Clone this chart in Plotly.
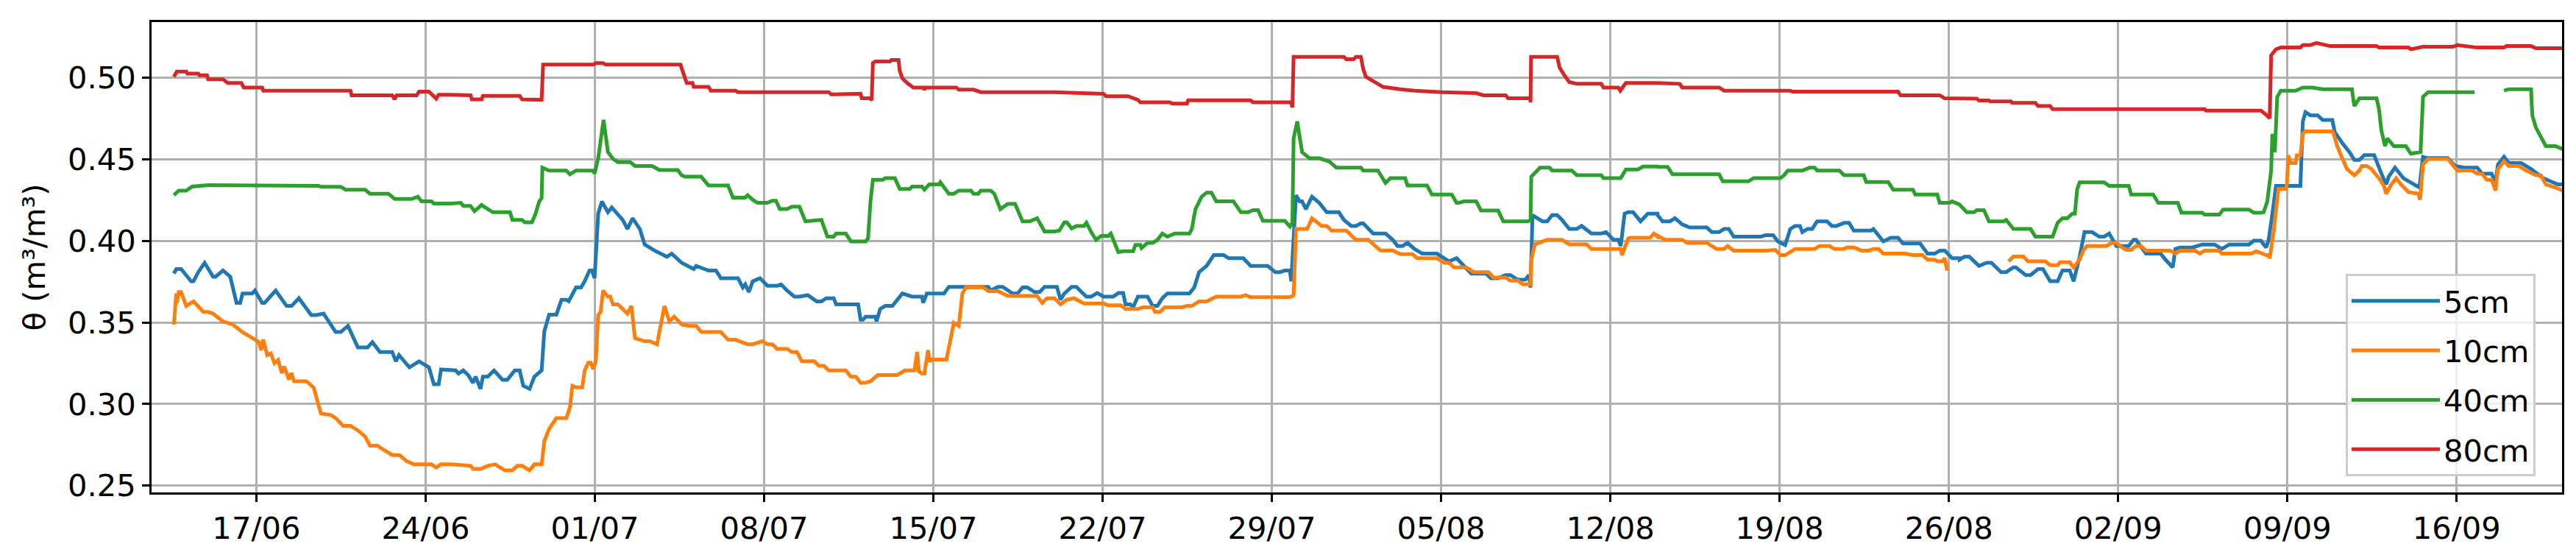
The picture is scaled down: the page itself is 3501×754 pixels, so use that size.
import pandas as pd
import plotly.graph_objects as go

BASE = pd.Timestamp("2019-06-17")

# ---- 5 cm ----
days_5cm = [
    -3.41, -3.31, -3.11, -2.90, -2.70, -2.60, -2.40, -2.14, -1.79, -1.69, -1.38, -1.08, -0.93, -0.82, -0.67, -0.57, -0.17, -0.06, 0.24, 0.34, 0.80, 1.25,
    1.46, 1.76, 2.27, 2.47, 2.78, 3.28, 3.49, 3.79, 4.20, 4.60, 4.80, 5.11, 5.62, 5.77, 5.90, 6.33, 6.73, 7.14, 7.34, 7.54, 7.64, 8.05,
    8.25, 8.36, 8.56, 8.76, 8.96, 9.07, 9.27, 9.37, 9.57, 9.83, 10.18, 10.38, 10.69, 10.89, 11.04, 11.30, 11.50, 11.80, 11.91, 12.11, 12.41, 12.62, 12.82, 12.92, 13.22, 13.43,
    13.58, 13.78, 13.88, 13.99, 14.14, 14.29, 14.54, 14.70, 15.15, 15.35, 15.56, 15.86, 16.06, 16.47, 16.98, 17.18, 17.59, 18.09, 18.19, 18.70, 19.01, 19.21, 19.92, 20.12, 20.22, 20.37, 20.53,
    20.83, 21.14, 21.54, 21.70, 21.95, 22.25, 22.46, 22.81, 23.17, 23.37, 23.57, 23.88, 23.98, 24.89, 24.99, 25.09, 25.20, 25.60, 25.65, 25.80,
    26.01, 26.31, 26.72, 27.12, 27.53, 27.58, 27.73, 28.44, 28.64, 30.27, 30.37, 30.67, 30.87, 31.28, 31.48, 31.69, 31.89, 32.19, 32.40, 32.60, 33.01,
    33.11, 33.26, 33.42, 33.72, 33.92, 34.13, 34.33, 34.53, 34.78, 35.04, 35.44, 35.65, 35.85, 35.95, 36.15, 36.26, 36.46, 36.86, 37.07, 37.27, 37.47, 37.68, 38.59, 38.79,
    38.99, 39.30, 39.60, 40.01, 40.21, 40.82, 41.12, 41.83, 42.14, 42.34, 42.54, 42.75, 42.80, 43.00, 43.15, 43.25, 43.41, 43.66, 43.96, 44.27, 44.77, 44.98, 45.28, 45.48,
    45.68, 45.78, 45.99, 46.19, 46.70, 47.00, 47.20, 47.41, 47.61, 47.91, 48.22, 48.83, 49.03, 49.33, 49.64, 49.94, 50.25, 50.86, 51.06, 51.36, 51.67, 51.87,
    52.17, 52.48, 52.63, 52.70, 52.78, 53.19, 53.39, 53.59, 53.80, 54.00, 54.30, 54.61, 54.81, 55.22, 55.62, 55.82, 56.13, 56.33, 56.43, 56.59, 56.74, 56.94, 57.25, 57.55, 57.95,
    57.96, 58.16, 58.47, 58.67, 58.97, 59.28, 59.99, 60.19, 60.50, 60.70, 60.90, 61.10, 62.22, 62.42, 62.73, 62.93, 63.23, 63.44, 63.64, 63.84, 63.94,
    64.15, 64.35, 64.55, 64.96, 65.16, 65.36, 65.67, 65.87, 66.07, 66.78, 66.88, 67.29, 67.60, 67.90, 68.10, 68.81, 69.12, 69.42, 69.62, 69.83, 70.13, 70.43,
    70.44, 70.64, 70.85, 71.25, 71.56, 71.76, 72.16, 72.37, 72.67, 72.77, 73.18, 73.38, 73.69, 73.89, 74.19, 74.50, 74.70, 75.00, 75.16, 75.41, 75.61,
    75.92, 76.22, 76.42, 76.63, 76.93, 77.44, 77.64, 77.74, 78.15, 78.76, 78.96, 79.26, 79.37, 79.57, 80.07, 80.48, 80.99, 81.29, 81.60, 82.41, 82.61, 82.91,
    83.12, 83.22, 83.38, 83.53, 84.54, 84.64, 84.75, 84.95, 85.25, 85.46, 85.86, 85.96, 86.27, 86.57, 86.77, 86.98, 87.18, 87.59, 87.89, 88.09, 88.19,
    88.45, 88.80, 89.21, 89.46, 89.61, 89.82, 90.63, 90.93, 91.34, 91.85, 92.05, 92.45, 92.61, 92.71, 92.96, 93.16, 93.67, 94.08, 94.58, 95.19, 95.39,
]
theta_5cm = [
    0.3800, 0.3827, 0.3827, 0.3789, 0.3752, 0.3752, 0.3808, 0.3865, 0.3780, 0.3780, 0.3818, 0.3780, 0.3677, 0.3620, 0.3620, 0.3677, 0.3677, 0.3695, 0.3620, 0.3620, 0.3695, 0.3601,
    0.3601, 0.3648, 0.3545, 0.3545, 0.3554, 0.3441, 0.3441, 0.3479, 0.3347, 0.3347, 0.3379, 0.3319, 0.3319, 0.3262, 0.3300, 0.3225, 0.3262, 0.3225, 0.3121, 0.3121, 0.3212, 0.3206,
    0.3206, 0.3187, 0.3206, 0.3178, 0.3130, 0.3168, 0.3093, 0.3168, 0.3168, 0.3206, 0.3149, 0.3149, 0.3206, 0.3206, 0.3112, 0.3093, 0.3168, 0.3206, 0.3446, 0.3548, 0.3548, 0.3639, 0.3639, 0.3630, 0.3714, 0.3714,
    0.3752, 0.3818, 0.3818, 0.3771, 0.4166, 0.4241, 0.4175, 0.4204, 0.4128, 0.4072, 0.4138, 0.4072, 0.3977, 0.3940, 0.3902, 0.3921, 0.3865, 0.3827, 0.3846, 0.3818, 0.3818, 0.3771, 0.3771, 0.3714, 0.3733, 0.3686, 0.3752,
    0.3771, 0.3724, 0.3724, 0.3733, 0.3695, 0.3658, 0.3658, 0.3667, 0.3629, 0.3629, 0.3648, 0.3648, 0.3611, 0.3611, 0.3517, 0.3517, 0.3535, 0.3535, 0.3507, 0.3582,
    0.3601, 0.3601, 0.3677, 0.3658, 0.3658, 0.3620, 0.3677, 0.3677, 0.3718, 0.3718, 0.3695, 0.3718, 0.3718, 0.3677, 0.3677, 0.3714, 0.3714, 0.3686, 0.3686, 0.3718, 0.3718,
    0.3718, 0.3639, 0.3677, 0.3718, 0.3718, 0.3686, 0.3658, 0.3658, 0.3680, 0.3658, 0.3658, 0.3680, 0.3680, 0.3611, 0.3611, 0.3592, 0.3658, 0.3658, 0.3601, 0.3601, 0.3648, 0.3677, 0.3677, 0.3714,
    0.3808, 0.3846, 0.3912, 0.3912, 0.3893, 0.3893, 0.3846, 0.3846, 0.3808, 0.3808, 0.3818, 0.3818, 0.3752, 0.4279, 0.4241, 0.4241, 0.4194, 0.4270, 0.4232, 0.4175, 0.4175, 0.4128, 0.4091, 0.4091,
    0.4106, 0.4106, 0.4072, 0.4044, 0.4044, 0.4006, 0.3968, 0.3968, 0.3987, 0.3949, 0.3921, 0.3921, 0.3902, 0.3874, 0.3893, 0.3846, 0.3799, 0.3799, 0.3771, 0.3771, 0.3790, 0.3790,
    0.3761, 0.3761, 0.3790, 0.3714, 0.4157, 0.4119, 0.4119, 0.4157, 0.4157, 0.4128, 0.4072, 0.4072, 0.4091, 0.4044, 0.4044, 0.4053, 0.4006, 0.4006, 0.3968, 0.4166, 0.4175, 0.4175, 0.4119, 0.4166, 0.4166,
    0.4156, 0.4119, 0.4119, 0.4138, 0.4100, 0.4081, 0.4081, 0.4053, 0.4053, 0.4072, 0.4072, 0.4025, 0.4025, 0.4034, 0.4034, 0.3996, 0.3974, 0.4072, 0.4091, 0.4091, 0.4053,
    0.4072, 0.4072, 0.4119, 0.4119, 0.4091, 0.4091, 0.4110, 0.4110, 0.4062, 0.4062, 0.4072, 0.3996, 0.4019, 0.4019, 0.3983, 0.3983, 0.3921, 0.3921, 0.3940, 0.3940, 0.3893, 0.3893,
    0.3884, 0.3902, 0.3902, 0.3846, 0.3865, 0.3865, 0.3808, 0.3808, 0.3837, 0.3837, 0.3790, 0.3790, 0.3827, 0.3827, 0.3752, 0.3752, 0.3818, 0.3818, 0.3752, 0.3902, 0.4053,
    0.4053, 0.4025, 0.4025, 0.4044, 0.3968, 0.3968, 0.4006, 0.4006, 0.3921, 0.3921, 0.3884, 0.3837, 0.3950, 0.3959, 0.3959, 0.3977, 0.3977, 0.3950, 0.3977, 0.3977, 0.4000, 0.4000,
    0.3959, 0.4000, 0.4166, 0.4336, 0.4336, 0.4731, 0.4787, 0.4768, 0.4768, 0.4740, 0.4740, 0.4665, 0.4599, 0.4543, 0.4495, 0.4495, 0.4524, 0.4524, 0.4411, 0.4345, 0.4392,
    0.4448, 0.4383, 0.4345, 0.4326, 0.4514, 0.4506, 0.4506, 0.4458, 0.4448, 0.4448, 0.4411, 0.4411, 0.4354, 0.4467, 0.4514, 0.4476, 0.4476, 0.4439, 0.4383, 0.4345, 0.4345,
]

# ---- 10 cm ----
days_10cm = [
    -3.41, -3.35, -3.31, -3.28, -3.21, -3.11, -2.90, -2.60, -2.40, -2.19, -1.99, -1.79, -1.38, -0.98, -0.57, -0.17, 0.10, 0.20, 0.28, 0.45, 0.60, 0.75, 0.90, 1.05, 1.15, 1.35, 1.45, 1.56,
    2.07, 2.37, 2.67, 3.08, 3.28, 3.59, 3.89, 4.20, 4.50, 4.70, 5.01, 5.31, 5.62, 5.92, 6.22, 6.53, 7.24, 7.44, 7.64, 8.05,
    8.86, 8.96, 9.27, 9.57, 9.88, 10.28, 10.59, 10.79, 10.99, 11.30, 11.50, 11.80, 11.91, 12.11, 12.41, 12.82, 12.97, 13.07, 13.22, 13.48, 13.58, 13.73, 13.83, 13.93, 14.04,
    14.14, 14.24, 14.34, 14.54, 14.64, 14.75, 14.95, 15.15, 15.35, 15.51, 15.66, 16.06, 16.27, 16.57, 16.88, 17.08, 17.28, 17.59, 17.89, 18.19, 18.40, 19.21, 19.51, 19.82, 20.32, 20.53,
    20.94, 21.14, 21.34, 21.54, 21.95, 22.15, 22.36, 22.56, 23.07, 23.27, 23.47, 23.67, 24.38, 24.59, 24.79, 24.99, 25.20, 25.40, 25.70, 26.51, 26.82, 27.22,
    27.33, 27.40, 27.53, 27.63, 27.78, 27.85, 27.93, 28.54, 28.75, 28.85, 29.05, 29.20, 29.35, 30.06, 30.27, 30.67, 31.08, 32.29, 32.50, 32.70, 33.01,
    33.26, 33.52, 33.82, 34.23, 35.04, 35.24, 35.75, 35.95, 36.46, 36.66, 37.07, 37.17, 37.37, 37.57, 38.28, 38.49, 38.69, 38.99, 39.30, 39.70, 40.72,
    40.92, 41.12, 42.75, 42.90, 43.00, 43.46, 43.66, 44.06, 44.27, 44.47, 45.08, 45.48,
    45.99, 46.19, 46.49, 47.00, 47.31, 47.81, 48.02, 48.83, 49.13, 49.33, 49.54, 50.04, 50.35, 50.96, 51.16, 51.67, 51.87, 52.17, 52.38, 52.70,
    52.73, 52.88, 53.39, 54.00, 54.30, 55.01, 55.22, 56.43, 56.48, 56.74, 56.84, 57.65, 57.80, 57.95,
    57.96, 58.26, 58.97, 59.18, 59.99, 60.39, 60.70, 60.85, 61.10, 62.42, 62.63, 62.83, 63.03, 63.23, 63.44, 63.64, 64.45, 64.65, 65.06, 65.26,
    65.67, 65.77, 66.07, 66.38, 66.68, 66.88, 67.09, 67.29, 68.20, 68.51, 68.91, 69.12, 69.42, 69.52, 69.72, 69.83, 69.93, 71.20,
    72.47, 72.67, 73.08, 73.28, 73.99, 74.19, 74.50, 74.60, 75.00, 75.16, 75.41, 75.56, 75.71, 76.52, 76.73, 76.93, 77.13, 77.34, 77.54, 77.74,
    77.95, 78.15, 79.16, 79.37, 79.57, 80.18, 80.38, 80.58, 81.19, 81.29, 82.51, 82.71, 82.91,
    83.12, 83.22, 83.27, 83.43, 83.53, 83.63, 83.93, 83.98, 84.04, 84.14, 84.34, 84.39, 84.54, 84.64, 84.75, 85.86, 85.91, 86.06, 86.27, 86.47, 86.77, 86.98,
    87.08, 87.28, 87.48, 87.79, 87.99, 88.09, 88.30, 88.50, 88.70, 89.01, 89.41, 89.49, 89.61, 89.82, 90.63, 90.83, 91.03, 91.64, 91.85, 92.05,
    92.25, 92.45, 92.61, 92.71, 92.96, 93.16, 93.57, 93.87, 94.28, 94.48, 94.69, 95.09, 95.39,
]
theta_10cm = [
    0.3487, 0.3570, 0.3677, 0.3620, 0.3686, 0.3686, 0.3601, 0.3629, 0.3601, 0.3564, 0.3564, 0.3554, 0.3506, 0.3488, 0.3441, 0.3404, 0.3380, 0.3330, 0.3395, 0.3300, 0.3310, 0.3250, 0.3270, 0.3190, 0.3230, 0.3150, 0.3190, 0.3140,
    0.3140, 0.3102, 0.2942, 0.2933, 0.2914, 0.2867, 0.2867, 0.2839, 0.2801, 0.2745, 0.2745, 0.2716, 0.2688, 0.2688, 0.2650, 0.2631, 0.2631, 0.2612, 0.2631, 0.2631,
    0.2622, 0.2603, 0.2603, 0.2622, 0.2631, 0.2594, 0.2594, 0.2622, 0.2622, 0.2594, 0.2631, 0.2631, 0.2773, 0.2848, 0.2914, 0.2914, 0.2980, 0.3112, 0.3102, 0.3102, 0.3206, 0.3253, 0.3253, 0.3215, 0.3262,
    0.3545, 0.3564, 0.3695, 0.3658, 0.3658, 0.3611, 0.3611, 0.3582, 0.3554, 0.3601, 0.3404, 0.3385, 0.3385, 0.3366, 0.3601, 0.3506, 0.3535, 0.3488, 0.3479, 0.3479, 0.3441, 0.3441, 0.3394, 0.3394, 0.3366, 0.3366,
    0.3385, 0.3366, 0.3366, 0.3338, 0.3338, 0.3319, 0.3319, 0.3262, 0.3262, 0.3234, 0.3234, 0.3206, 0.3206, 0.3168, 0.3168, 0.3131, 0.3131, 0.3140, 0.3178, 0.3178, 0.3206, 0.3206,
    0.3319, 0.3200, 0.3187, 0.3187, 0.3330, 0.3260, 0.3272, 0.3272, 0.3432, 0.3498, 0.3479, 0.3677, 0.3714, 0.3714, 0.3692, 0.3692, 0.3662, 0.3662, 0.3620, 0.3648, 0.3648,
    0.3611, 0.3639, 0.3648, 0.3616, 0.3616, 0.3605, 0.3605, 0.3582, 0.3582, 0.3592, 0.3592, 0.3564, 0.3564, 0.3592, 0.3592, 0.3601, 0.3601, 0.3629, 0.3629, 0.3658, 0.3658,
    0.3667, 0.3654, 0.3654, 0.3667, 0.4072, 0.4072, 0.4138, 0.4091, 0.4091, 0.4062, 0.4062, 0.4006,
    0.4006, 0.3978, 0.3941, 0.3941, 0.3918, 0.3918, 0.3893, 0.3893, 0.3865, 0.3865, 0.3837, 0.3837, 0.3808, 0.3808, 0.3775, 0.3775, 0.3756, 0.3756, 0.3733, 0.3733,
    0.3884, 0.3978, 0.4006, 0.4006, 0.3978, 0.3978, 0.3950, 0.3950, 0.3912, 0.4015, 0.4019, 0.4019, 0.4044, 0.4025,
    0.4031, 0.4006, 0.4006, 0.3987, 0.3987, 0.3950, 0.3950, 0.3968, 0.3940, 0.3940, 0.3944, 0.3944, 0.3912, 0.3912, 0.3931, 0.3950, 0.3950, 0.3968, 0.3968, 0.3950,
    0.3950, 0.3959, 0.3959, 0.3940, 0.3940, 0.3950, 0.3950, 0.3921, 0.3921, 0.3912, 0.3912, 0.3884, 0.3884, 0.3874, 0.3874, 0.3893, 0.3818, None,
    0.3874, 0.3903, 0.3903, 0.3874, 0.3874, 0.3850, 0.3850, 0.3869, 0.3869, 0.3837, 0.3884, 0.3940, 0.3968, 0.3968, 0.3987, 0.3987, 0.3963, 0.3944, 0.3944, 0.3968,
    0.3968, 0.3940, 0.3940, 0.3921, 0.3940, 0.3940, 0.3921, 0.3940, 0.3940, 0.3921, 0.3921, 0.3936, 0.3925,
    0.3912, 0.3912, 0.3893, 0.4053, 0.4204, 0.4317, 0.4317, 0.4345, 0.4523, 0.4476, 0.4476, 0.4523, 0.4523, 0.4655, 0.4670, 0.4670, 0.4655, 0.4580, 0.4505, 0.4439, 0.4401, 0.4430,
    0.4458, 0.4458, 0.4439, 0.4383, 0.4336, 0.4288, 0.4345, 0.4383, 0.4345, 0.4298, 0.4288, 0.4251, 0.4467, 0.4501, 0.4501, 0.4467, 0.4430, 0.4430, 0.4411, 0.4411,
    0.4373, 0.4373, 0.4307, 0.4439, 0.4486, 0.4458, 0.4458, 0.4430, 0.4401, 0.4401, 0.4345, 0.4326, 0.4307,
]

# ---- 40 cm ----
days_40cm = [
    -3.41, -3.21, -2.90, -2.65, -1.99, 0.65, 2.57, 2.67, 3.49, 3.69, 4.50, 4.70, 5.46, 5.72, 6.43, 6.68, 6.83, 7.24, 7.34, 8.05,
    8.46, 8.56, 8.86, 9.02, 9.32, 9.47, 9.78, 10.49, 10.59, 10.99, 11.10, 11.40, 11.55, 11.70, 11.80, 11.83, 12.11, 12.82, 12.97, 13.22, 13.93, 13.99,
    14.14, 14.36, 14.54, 14.75, 14.95, 15.46, 15.66, 16.37, 16.67, 17.43, 17.59, 17.74, 18.40, 18.70, 19.51, 19.71, 20.22, 20.32, 20.53,
    20.73, 21.14, 21.34, 21.49, 21.65, 21.95, 22.15, 22.46, 22.71, 23.37, 23.62, 23.88, 23.98, 24.38, 24.59, 25.20, 25.30, 25.40, 25.50, 25.91, 26.01, 26.41,
    26.61, 27.02, 27.12, 27.53, 27.63, 27.83, 28.24, 28.29, 28.64, 28.85, 29.05, 29.56, 29.66, 29.86, 29.96, 30.37, 30.52, 30.77, 31.08, 31.38, 31.69, 31.99, 32.29, 32.60, 33.01,
    33.21, 33.42, 33.52, 33.72, 33.92, 34.23, 34.33, 34.53, 34.73, 34.94, 35.24, 35.34, 35.65, 35.85, 36.26, 36.36, 36.56, 36.61, 36.86, 37.07, 37.27, 37.47, 37.68, 37.98,
    38.59, 38.69, 38.84, 39.10, 39.30, 39.50, 39.70, 40.41, 40.72, 41.02, 41.22, 41.43, 41.63, 42.54, 42.75, 42.85, 42.90, 43.05, 43.25, 43.56, 43.96, 44.37, 44.67, 45.48,
    45.68, 45.78, 46.39, 46.70, 46.90, 47.51, 47.61, 48.42, 48.62, 49.44, 49.64, 49.74, 49.94, 50.45, 50.65, 51.36, 51.57, 52.58, 52.70, 52.73, 52.99, 53.09,
    53.49, 53.59, 54.41, 54.61, 55.62, 55.72, 56.43, 56.64, 57.14, 57.35, 57.95,
    57.96, 58.37, 58.57, 60.50, 60.65, 61.71, 61.92, 63.03, 63.18, 63.34, 63.94, 64.25, 64.45, 64.55, 65.47, 65.67, 66.48, 66.58, 67.49, 67.70,
    68.51, 68.61, 69.52, 69.62, 70.03, 70.13, 70.43,
    70.74, 71.05, 71.15, 71.45, 71.66, 72.27, 72.37, 72.67, 73.38, 73.58, 74.29, 74.50, 74.70, 74.90, 75.11, 75.21, 75.31, 75.41, 76.42, 76.63,
    77.44, 77.54, 78.45, 78.66, 79.47, 79.62, 80.48, 80.58, 81.19, 81.34, 82.41, 82.61, 82.91,
    83.02, 83.17, 83.33, 83.38, 83.48, 83.51, 83.58, 83.73, 84.34, 84.64, 85.05, 85.46, 86.67, 86.77, 86.98, 87.69, 87.79, 87.89, 88.04, 88.14,
    88.40, 88.90, 89.11, 89.51, 89.61, 89.82, 91.74, 92.35, 92.96, 93.16, 94.08, 94.13, 94.28, 94.48, 94.69, 95.09, 95.39,
]
theta_40cm = [
    0.4279, 0.4307, 0.4307, 0.4332, 0.4341, 0.4341, 0.4336, 0.4330, 0.4330, 0.4313, 0.4313, 0.4288, 0.4288, 0.4256, 0.4256, 0.4270, 0.4241, 0.4241, 0.4228, 0.4228,
    0.4232, 0.4213, 0.4213, 0.4181, 0.4219, 0.4204, 0.4175, 0.4175, 0.4128, 0.4128, 0.4113, 0.4113, 0.4166, 0.4241, 0.4260, 0.4448, 0.4430, 0.4430, 0.4407, 0.4430, 0.4430, 0.4411,
    0.4506, 0.4740, 0.4543, 0.4502, 0.4482, 0.4482, 0.4458, 0.4458, 0.4433, 0.4433, 0.4401, 0.4392, 0.4392, 0.4339, 0.4339, 0.4264, 0.4264, 0.4279, 0.4251,
    0.4232, 0.4232, 0.4245, 0.4245, 0.4194, 0.4194, 0.4209, 0.4209, 0.4119, 0.4128, 0.4025, 0.4025, 0.4044, 0.4044, 0.3996, 0.3996, 0.4015, 0.4241, 0.4373, 0.4373, 0.4383, 0.4383,
    0.4317, 0.4317, 0.4332, 0.4332, 0.4313, 0.4345, 0.4345, 0.4358, 0.4288, 0.4288, 0.4307, 0.4307, 0.4288, 0.4288, 0.4307, 0.4307, 0.4288, 0.4194, 0.4226, 0.4226, 0.4119, 0.4119, 0.4138, 0.4057, 0.4057,
    0.4062, 0.4113, 0.4113, 0.4076, 0.4091, 0.4091, 0.4110, 0.4053, 0.4006, 0.4030, 0.4030, 0.4044, 0.3931, 0.3936, 0.3936, 0.3974, 0.3974, 0.3955, 0.3987, 0.3987, 0.4006, 0.4044, 0.4025, 0.4044,
    0.4044, 0.4072, 0.4194, 0.4270, 0.4294, 0.4294, 0.4241, 0.4241, 0.4175, 0.4175, 0.4188, 0.4188, 0.4122, 0.4122, 0.4087, 0.4110, 0.4627, 0.4731, 0.4543, 0.4505, 0.4505, 0.4486, 0.4448, 0.4448,
    0.4448, 0.4430, 0.4430, 0.4354, 0.4383, 0.4383, 0.4339, 0.4339, 0.4283, 0.4283, 0.4232, 0.4232, 0.4241, 0.4241, 0.4185, 0.4185, 0.4119, 0.4119, 0.4128, 0.4392, 0.4437, 0.4448,
    0.4448, 0.4430, 0.4430, 0.4401, 0.4401, 0.4383, 0.4383, 0.4437, 0.4437, 0.4454, 0.4454,
    0.4452, 0.4452, 0.4407, 0.4407, 0.4364, 0.4364, 0.4383, 0.4383, 0.4401, 0.4430, 0.4430, 0.4448, 0.4448, 0.4430, 0.4430, 0.4401, 0.4401, 0.4360, 0.4360, 0.4313,
    0.4313, 0.4283, 0.4283, 0.4232, 0.4232, 0.4241, 0.4223,
    0.4175, 0.4175, 0.4188, 0.4188, 0.4119, 0.4119, 0.4128, 0.4072, 0.4072, 0.4025, 0.4025, 0.4110, 0.4138, 0.4138, 0.4166, 0.4166, 0.4317, 0.4358, 0.4358, 0.4336,
    0.4336, 0.4283, 0.4283, 0.4232, 0.4232, 0.4172, 0.4172, 0.4160, 0.4160, 0.4191, 0.4191, 0.4172, 0.4172,
    0.4175, 0.4241, 0.4430, 0.4655, 0.4543, 0.4637, 0.4881, 0.4919, 0.4919, 0.4938, 0.4938, 0.4928, 0.4928, 0.4825, 0.4872, 0.4872, 0.4806, 0.4674, 0.4580, 0.4627,
    0.4580, 0.4580, 0.4533, 0.4543, 0.4881, 0.4910, 0.4910, None, 0.4919, 0.4928, 0.4928, 0.4768, 0.4693, 0.4637, 0.4580, 0.4580, 0.4561,
]

# ---- 80 cm ----
days_80cm = [
    -3.41, -3.29, -2.90, -2.85, -2.40, -2.35, -2.04, -1.99, -1.38, -1.18, -0.62, -0.52, 0.24, 0.29, 3.89, 3.94, 5.62, 5.72, 5.80, 6.63, 6.73, 7.14, 7.44, 7.54, 8.05,
    8.86, 8.91, 9.32, 9.37, 10.89, 10.99, 11.40, 11.45, 11.80, 11.86, 13.94, 14.04, 14.34, 14.44, 17.54, 17.69, 17.80, 18.04, 18.09, 18.70, 18.80, 19.82, 19.92, 20.53,
    23.67, 23.78, 24.28, 24.38, 24.99, 25.04, 25.40, 25.45, 25.50, 25.60, 26.21, 26.26, 26.56, 26.61, 26.72, 26.92, 27.17, 27.58, 27.63, 27.68, 28.95, 29.05, 29.66, 29.96, 33.01,
    35.04, 35.14, 36.05, 36.46, 36.56, 37.78, 37.88, 38.49, 38.54, 41.12, 41.22, 42.80, 42.85, 42.90, 44.98, 45.08, 45.38, 45.48,
    45.68, 45.78, 45.89, 46.09, 46.29, 46.60, 47.31, 47.91, 49.03, 50.45, 50.75, 51.67, 51.77, 52.68, 52.70, 52.72, 53.80, 53.90, 54.10, 54.30, 54.61,
    55.62, 55.72, 56.33, 56.41, 56.64, 57.95,
    58.87, 58.97, 60.50, 60.70, 63.44, 63.54, 67.90, 68.00, 69.62, 69.83, 70.43,
    71.15, 71.25, 71.66, 71.71, 72.57, 72.62, 73.58, 73.69, 74.19, 74.29, 80.58, 80.63, 82.91,
    83.12, 83.27, 83.33, 83.53, 83.73, 84.54, 84.64, 84.95, 85.20, 85.56, 85.76, 87.69, 87.79, 89.01, 89.11, 89.61, 90.83, 91.03, 91.85, 92.96, 93.06, 94.08, 94.28, 95.39,
]
theta_80cm = [
    0.5004, 0.5036, 0.5036, 0.5023, 0.5023, 0.5013, 0.5013, 0.4989, 0.4989, 0.4966, 0.4966, 0.4938, 0.4938, 0.4919, 0.4919, 0.4891, 0.4891, 0.4866, 0.4891, 0.4891, 0.4913, 0.4913, 0.4870, 0.4894, 0.4894,
    0.4891, 0.4866, 0.4866, 0.4887, 0.4887, 0.4866, 0.4866, 0.4863, 0.4863, 0.5079, 0.5079, 0.5088, 0.5088, 0.5079, 0.5079, 0.5013, 0.4966, 0.4966, 0.4942, 0.4942, 0.4919, 0.4919, 0.4910, 0.4910,
    0.4910, 0.4896, 0.4896, 0.4900, 0.4900, 0.4872, 0.4872, 0.4859, 0.5088, 0.5098, 0.5098, 0.5107, 0.5107, 0.5041, 0.4994, 0.4966, 0.4938, 0.4938, 0.4925, 0.4938, 0.4938, 0.4925, 0.4925, 0.4910, 0.4910,
    0.4900, 0.4885, 0.4885, 0.4863, 0.4848, 0.4848, 0.4840, 0.4840, 0.4860, 0.4860, 0.4848, 0.4848, 0.4816, 0.5126, 0.5126, 0.5111, 0.5111, 0.5126,
    0.5126, 0.5051, 0.5004, 0.4985, 0.4966, 0.4942, 0.4928, 0.4919, 0.4910, 0.4904, 0.4891, 0.4891, 0.4872, 0.4872, 0.4848, 0.5126, 0.5126, 0.5060, 0.5013, 0.4972, 0.4961,
    0.4961, 0.4938, 0.4938, 0.4919, 0.4966, 0.4966,
    0.4961, 0.4938, 0.4938, 0.4919, 0.4919, 0.4913, 0.4913, 0.4891, 0.4891, 0.4872, 0.4872,
    0.4870, 0.4859, 0.4859, 0.4853, 0.4853, 0.4844, 0.4844, 0.4825, 0.4825, 0.4806, 0.4806, 0.4797, 0.4797,
    0.4772, 0.4750, 0.5136, 0.5173, 0.5183, 0.5183, 0.5198, 0.5198, 0.5211, 0.5196, 0.5192, 0.5192, 0.5183, 0.5183, 0.5173, 0.5188, 0.5188, 0.5198, 0.5183, 0.5183, 0.5192, 0.5192, 0.5179, 0.5179,
]

series_names = ["5cm", "10cm", "40cm", "80cm"]
series_colors = ["#1f77b4", "#ff7f0e", "#2ca02c", "#d62728"]
series_days = [days_5cm, days_10cm, days_40cm, days_80cm]
series_theta = [theta_5cm, theta_10cm, theta_40cm, theta_80cm]

y_ticks = [0.25, 0.30, 0.35, 0.40, 0.45, 0.50]
x_tick_dates = ["2019-06-17", "2019-06-24", "2019-07-01", "2019-07-08", "2019-07-15",
                "2019-07-22", "2019-07-29", "2019-08-05", "2019-08-12", "2019-08-19",
                "2019-08-26", "2019-09-02", "2019-09-09", "2019-09-16"]
x_range_days = [-4.333, 95.36]
y_range = [0.2459, 0.5339]


def to_dates(days):
    return [BASE + pd.Timedelta(days=d) for d in days]


FONT = "DejaVu Sans"
FS = 41.67

fig = go.Figure()
for name, color, d, v in zip(series_names, series_colors, series_days, series_theta):
    assert len(d) == len(v), (name, len(d), len(v))
    fig.add_trace(go.Scatter(
        x=to_dates(d), y=v, mode="lines", name=name, legendgroup=name,
        line=dict(color=color, width=5), connectgaps=False,
    ))

fig.update_layout(
    width=3501, height=754,
    margin=dict(l=198, r=27, t=22, b=93),
    paper_bgcolor="white", plot_bgcolor="white",
    font=dict(family=FONT, size=FS, color="black"),
    showlegend=True,
    legend=dict(
        x=0.989, y=0.034, xanchor="right", yanchor="bottom",
        bgcolor="rgba(255,255,255,0.8)", bordercolor="#cccccc", borderwidth=3,
        font=dict(family=FONT, size=FS, color="black"),
        tracegroupgap=10, itemwidth=120,
    ),
)
fig.update_xaxes(
    range=to_dates(x_range_days), tickvals=pd.to_datetime(x_tick_dates), tickformat="%d/%m",
    showgrid=True, gridcolor="#b0b0b0", gridwidth=3,
    showline=True, linecolor="black", linewidth=3, mirror=True,
    ticks="outside", ticklen=10, tickwidth=3, tickcolor="black",
    zeroline=False, tickfont=dict(family=FONT, size=FS, color="black"),
)
fig.update_yaxes(
    range=y_range, tickvals=y_ticks, tickformat=".2f",
    showgrid=True, gridcolor="#b0b0b0", gridwidth=3,
    showline=True, linecolor="black", linewidth=3, mirror=True,
    ticks="outside", ticklen=10, tickwidth=3, tickcolor="black",
    zeroline=False, tickfont=dict(family=FONT, size=FS, color="black"),
    title=dict(text="θ (m³/m³)", font=dict(family=FONT, size=FS, color="black"), standoff=18),
)

fig.write_html("out.html")
